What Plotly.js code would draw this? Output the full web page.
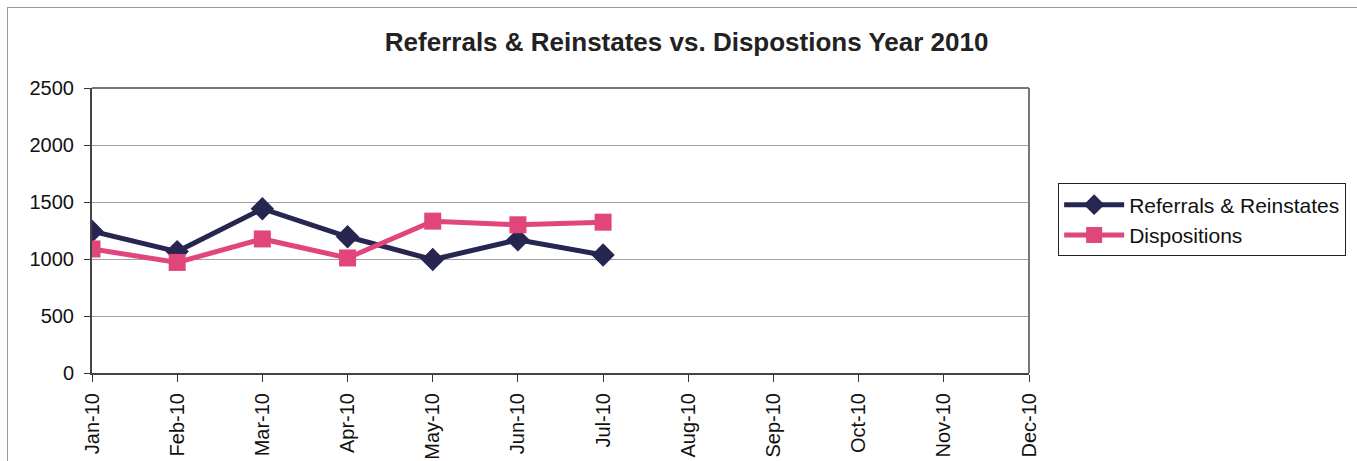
<!DOCTYPE html>
<html>
<head>
<meta charset="utf-8">
<script src="https://cdn.plot.ly/plotly-3.0.1.min.js"></script>
<style>
html,body{margin:0;padding:0;background:#fff;}
#frame{position:absolute;left:7px;top:7px;width:1360px;height:470px;border:1px solid #9a9a9a;box-sizing:border-box;}
#chart{position:absolute;left:0;top:0;width:1357px;height:461px;}
</style>
</head>
<body>
<div id="frame"></div>
<div id="chart"></div>
<script>
const months = ["Jan-10","Feb-10","Mar-10","Apr-10","May-10","Jun-10","Jul-10","Aug-10","Sep-10","Oct-10","Nov-10","Dec-10"];
const referrals = [1243, 1065, 1441, 1195, 995, 1168, 1035];
const dispositions = [1088, 970, 1176, 1009, 1332, 1300, 1323];

const traces = [
  {x: months.slice(0, referrals.length), y: referrals, name: "Referrals & Reinstates", type: "scatter", mode: "lines+markers",
   line: {color: "#262650", width: 5}, marker: {symbol: "diamond", size: 18, color: "#262650"}},
  {x: months.slice(0, dispositions.length), y: dispositions, name: "Dispositions", type: "scatter", mode: "lines+markers",
   line: {color: "#e0467c", width: 5}, marker: {symbol: "square", size: 17, color: "#e0467c"}}
];

const layout = {
  width: 1357, height: 461,
  margin: {l: 92, r: 327, t: 88, b: 88},
  paper_bgcolor: "rgba(0,0,0,0)", plot_bgcolor: "#fff",
  font: {family: "Liberation Sans, Arial, sans-serif", size: 20, color: "#111"},
  title: {text: "<b>Referrals & Reinstates vs. Dispostions Year 2010</b>", font: {size: 26, color: "#222"}, x: 0.506, xanchor: "center", y: 0.91, yanchor: "middle"},
  xaxis: {type: "category", categoryorder: "array", categoryarray: months, range: [0, 11],
          tickangle: -90, ticks: "outside", ticklen: 7, tickcolor: "#333", showline: true, linecolor: "#444", linewidth: 2,
          mirror: false, showgrid: false, tickfont: {size: 20}, ticklabelstandoff: 3, fixedrange: true},
  yaxis: {range: [0, 2500], dtick: 500, ticks: "outside", ticklen: 6, tickcolor: "#333", showline: true, linecolor: "#444", linewidth: 2,
          gridcolor: "#a0a0a0", gridwidth: 1, zeroline: false, tickfont: {size: 20}, ticklabelstandoff: 6},
  shapes: [
    {type: "line", xref: "paper", yref: "paper", x0: 0, x1: 1, y0: 1, y1: 1, line: {color: "#777", width: 2}},
    {type: "line", xref: "paper", yref: "paper", x0: 1, x1: 1, y0: 0, y1: 1, line: {color: "#777", width: 2}}
  ],
  legend: {x: 1.03, xanchor: "left", y: 0.665, yanchor: "top", bordercolor: "#222", borderwidth: 1,
           font: {size: 21, color: "#111"}, bgcolor: "#fff", itemwidth: 60, tracegroupgap: 0},
  showlegend: true
};

Plotly.newPlot("chart", traces, layout, {displayModeBar: false, staticPlot: true});
</script>
</body>
</html>
